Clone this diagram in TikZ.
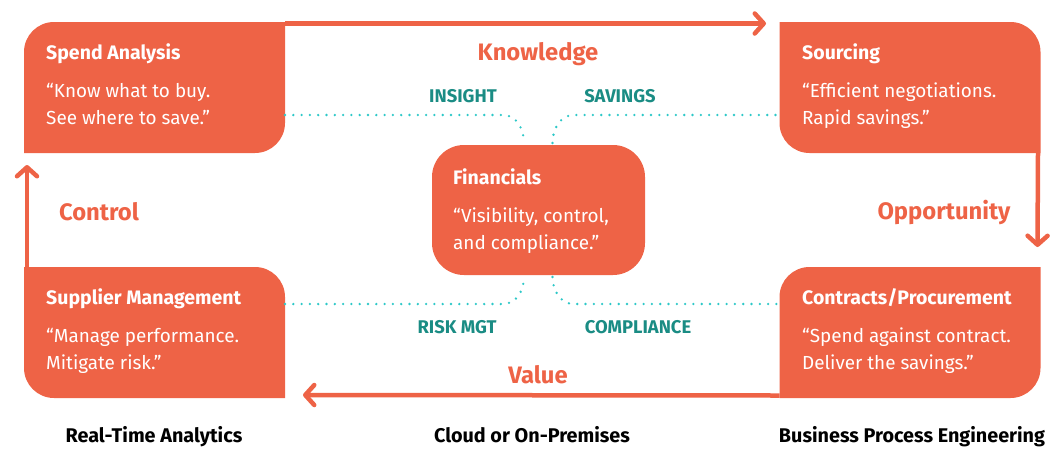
\documentclass[tikz,border=0pt]{standalone}
\usepackage{fontspec}
\setmainfont{Fira Sans}
\usetikzlibrary{arrows.meta,calc}
\definecolor{brand}{RGB}{238,99,70}
\definecolor{tealtxt}{RGB}{26,140,132}
\definecolor{dotc}{RGB}{45,200,200}
\begin{document}
\begin{tikzpicture}[x=1pt,y=1pt,
  boxarea/.style={minimum width=261pt,minimum height=131pt,inner sep=0pt,outer sep=0pt},
  ttl/.style={anchor=base west,inner sep=0pt,text=white,font=\bfseries\fontsize{19.5}{23}\selectfont},
  quo/.style={anchor=base west,inner sep=0pt,text=white,font=\fontsize{18.9}{24}\selectfont},
  flow/.style={brand,line width=4.5pt,-{Straight Barb[length=9pt,width=20pt,round]}},
  flowlbl/.style={anchor=base,inner sep=0pt,text=brand,font=\bfseries\fontsize{23.8}{28}\selectfont},
  linklbl/.style={anchor=base,inner sep=0pt,text=tealtxt,font=\bfseries\fontsize{18.4}{22}\selectfont},
  foot/.style={anchor=base,inner sep=0pt,text=black,font=\bfseries\fontsize{19.8}{24}\selectfont},
  dots/.style={dotc,line width=2.6pt,line cap=round,dash pattern=on 0pt off 8.3pt}
]
\useasboundingbox (0,0) rectangle (1057,-448);

% box areas
\node[boxarea] (spend) at (154.5,-87.5) {};
\node[boxarea] (src) at (910,-87.5) {};
\node[boxarea] (con) at (910,-332.5) {};
\node[boxarea] (sup) at (154.5,-332.5) {};
\node[fill=brand,rounded corners=32pt,minimum width=213pt,minimum height=130pt,inner sep=0pt,outer sep=0pt] (fin) at (538.5,-210) {};

% box fills (two opposite corners rounded)
\fill[brand] (spend.south west) -- ([yshift=-30pt]spend.north west) arc[start angle=180,end angle=90,radius=30pt]
  -- (spend.north east) -- ([yshift=30pt]spend.south east) arc[start angle=0,end angle=-90,radius=30pt] -- cycle;
\fill[brand] (src.north west) -- ([xshift=-30pt]src.north east) arc[start angle=90,end angle=0,radius=30pt]
  -- (src.south east) -- ([xshift=30pt]src.south west) arc[start angle=270,end angle=180,radius=30pt] -- cycle;
\fill[brand] (con.south west) -- ([yshift=-30pt]con.north west) arc[start angle=180,end angle=90,radius=30pt]
  -- (con.north east) -- ([yshift=30pt]con.south east) arc[start angle=0,end angle=-90,radius=30pt] -- cycle;
\fill[brand] (sup.north west) -- ([xshift=-30pt]sup.north east) arc[start angle=90,end angle=0,radius=30pt]
  -- (sup.south east) -- ([xshift=30pt]sup.south west) arc[start angle=270,end angle=180,radius=30pt] -- cycle;

% box texts
\node[ttl] (spendT) at (46,-59) {Spend Analysis};
\node[quo] (spendA) at (46,-97) {“Know what to buy.};
\node[quo] (spendB) at (46,-124) {See where to save.”};
\node[ttl] (srcT) at (802,-59) {Sourcing};
\node[quo] (srcA) at (802,-97) {“Efficient negotiations.};
\node[quo] (srcB) at (802,-124) {Rapid savings.”};
\node[ttl] (conT) at (802,-304) {Contracts/Procurement};
\node[quo] (conA) at (802,-342) {“Spend against contract.};
\node[quo] (conB) at (802,-369) {Deliver the savings.”};
\node[ttl] (supT) at (46,-304) {Supplier Management};
\node[quo] (supA) at (46,-342) {“Manage performance.};
\node[quo] (supB) at (46,-369) {Mitigate risk.”};
\node[ttl] (finT) at (453,-184) {Financials};
\node[quo] (finA) at (453,-222) {“Visibility, control,};
\node[quo] (finB) at (453,-249) {and compliance.”};

% flow arrows
\coordinate (kntip) at (766,-23.5);
\coordinate (optip) at (1037.5,-247);
\coordinate (vatip) at (303,-395);
\coordinate (cotip) at (27,-165);
\draw[flow] ([yshift=-1.5pt]spend.north east) -- (kntip);
\draw[flow] ([xshift=-2.5pt]src.south east) -- (optip);
\draw[flow] ([yshift=2.5pt]con.south west) -- (vatip);
\draw[flow] ([xshift=3pt]sup.north west) -- (cotip);

\node[flowlbl] (kn) at (538,-60) {Knowledge};
\node[flowlbl] (op) at (944,-219) {Opportunity};
\node[flowlbl] (va) at (538,-383) {Value};
\node[flowlbl] (co) at (99,-220) {Control};

% dotted links
\coordinate (d1) at (503,-115);
\coordinate (d2) at (574,-115);
\coordinate (d3) at (503,-304);
\coordinate (d4) at (574,-304);
\draw[dots] ([yshift=-27.5pt]spend.east) -- (d1) to[out=0,in=90] ([xshift=-14.5pt,yshift=2pt]fin.north);
\draw[dots] ([xshift=14pt,yshift=2pt]fin.north) to[out=90,in=180] (d2) -- ([yshift=-27.5pt]src.west);
\draw[dots] ([yshift=28.5pt]sup.east) -- (d3) to[out=0,in=-90] ([xshift=-14.5pt,yshift=-2pt]fin.south);
\draw[dots] ([xshift=14pt,yshift=-2pt]fin.south) to[out=-90,in=180] (d4) -- ([yshift=28.5pt]con.west);

\node[linklbl] (ins) at (463,-102) {INSIGHT};
\node[linklbl] (sav) at (620,-102) {SAVINGS};
\node[linklbl] (risk) at (457,-333) {RISK MGT};
\node[linklbl] (comp) at (638,-333) {COMPLIANCE};

% footer
\node[foot] (f1) at (154,-442) {Real-Time Analytics};
\node[foot] (f2) at (532,-442) {Cloud or On-Premises};
\node[foot] (f3) at (912,-442) {Business Process Engineering};
\end{tikzpicture}
\end{document}
